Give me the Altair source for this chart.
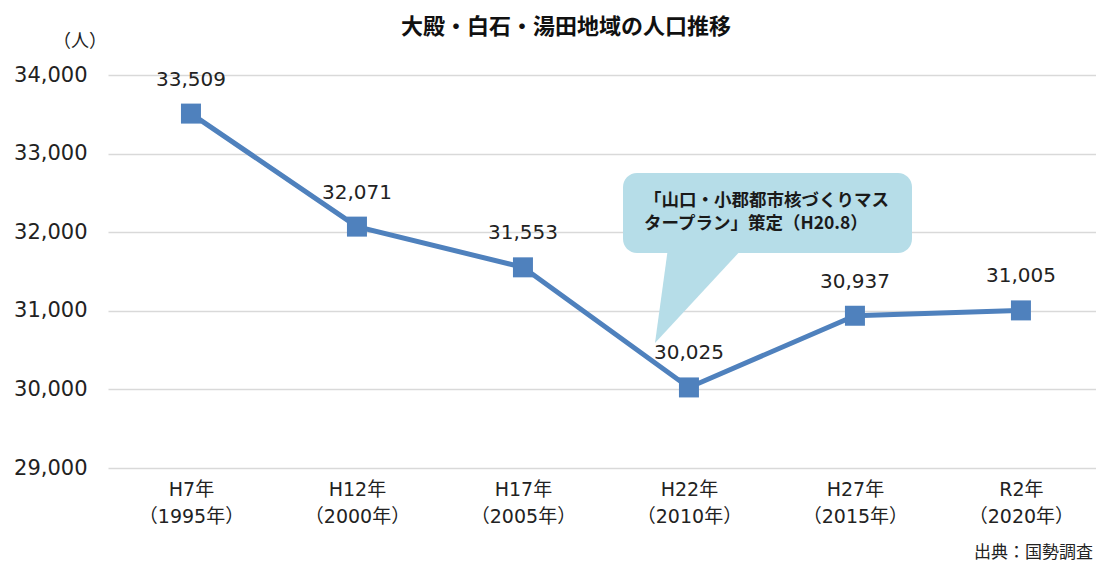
import altair as alt
import pandas as pd

# ---- data ----
categories = ["H7年\n（1995年）", "H12年\n（2000年）", "H17年\n（2005年）",
              "H22年\n（2010年）", "H27年\n（2015年）", "R2年\n（2020年）"]
population = [33509, 32071, 31553, 30025, 30937, 31005]

title_text = ["大殿・白石・湯田地域の人口推移"]
unit_text = ["（人）"]
source_text = ["出典：国勢調査"]
callout_line1 = ["「山口・小郡都市核づくりマス"]
callout_line2 = ["タープラン」策定（H20.8）"]

y_ticks = [29000, 30000, 31000, 32000, 33000, 34000]

FONT = "DejaVu Sans, Noto Sans CJK JP"
JP = "Noto Sans CJK JP"
BLUE = "#4f81bd"
BUBBLE = "#b6dde8"

df = pd.DataFrame({"cat": categories, "pop": population})

x = alt.X("cat:N", sort=categories, title=None,
          scale=alt.Scale(type="point", padding=0.476, align=0.525),
          axis=alt.Axis(labelAngle=0, domain=False, ticks=False, grid=False,
                        labelExpr="split(datum.label, '\\n')",
                        labelFont=FONT, labelFontSize=19, labelColor="#222222",
                        labelLineHeight=27, labelPadding=12, labelBaseline="top"))
y = alt.Y("pop:Q", title=None,
          scale=alt.Scale(domain=[29000, 34000], nice=False, zero=False),
          axis=alt.Axis(values=y_ticks, format=",.0f", domain=False, ticks=False,
                        gridColor="#d9d9d9", gridWidth=1.5,
                        labelFont=FONT, labelFontSize=21, labelColor="#222222",
                        labelPadding=21))

base = alt.Chart(df)
line = base.mark_line(color=BLUE, strokeWidth=5).encode(x=x, y=y)
pts = base.mark_point(shape="square", filled=True, opacity=1, size=400,
                      color=BLUE).encode(x=x, y=y)
labels = base.mark_text(dy=-34, font=FONT, fontSize=20, color="#222222").encode(
    x=x, y=y, text=alt.Text("pop:Q", format=",.0f"))

one = pd.DataFrame({"t": [0]})

bubble = alt.Chart(one).mark_rect(color=BUBBLE, cornerRadius=14).encode(
    x=alt.value(515), x2=alt.value(804), y=alt.value(98), y2=alt.value(178))
tail = alt.Chart(one).mark_point(
    shape="M0,0 L13,-95 L88,-95 Z", filled=True, opacity=1, size=4,
    color=BUBBLE, strokeWidth=0).encode(x=alt.value(547), y=alt.value(268))
callout1 = alt.Chart(pd.DataFrame({"t": callout_line1})).mark_text(
    align="left", baseline="middle",
    font=JP, fontSize=17.5, fontWeight="bold", color="#1a1a1a").encode(
    x=alt.value(536), y=alt.value(126), text="t:N")
callout2 = alt.Chart(pd.DataFrame({"t": callout_line2})).mark_text(
    align="left", baseline="middle",
    font=JP, fontSize=17.5, fontWeight="bold", color="#1a1a1a").encode(
    x=alt.value(536), y=alt.value(149), text="t:N")

title = alt.Chart(pd.DataFrame({"t": title_text})).mark_text(
    align="center", baseline="middle", font=JP, fontSize=22, fontWeight="bold",
    color="#111111").encode(x=alt.value(458), y=alt.value(-48), text="t:N")
unit = alt.Chart(pd.DataFrame({"t": unit_text})).mark_text(
    align="center", baseline="middle", font=JP, fontSize=18,
    color="#222222").encode(x=alt.value(-28), y=alt.value(-33), text="t:N")
source = alt.Chart(pd.DataFrame({"t": source_text})).mark_text(
    align="right", baseline="middle", font=JP, fontSize=17,
    color="#222222").encode(x=alt.value(985), y=alt.value(478), text="t:N")

chart = alt.layer(line, pts, labels, bubble, tail, callout1, callout2,
                  title, unit, source).properties(
    width=988, height=393,
    autosize=alt.AutoSizeParams(type="none"),
    padding={"left": 100, "top": 67, "right": 0, "bottom": 94},
).configure_view(stroke=None)

chart.save("out.html", embed_options={"renderer": "svg", "actions": False})
